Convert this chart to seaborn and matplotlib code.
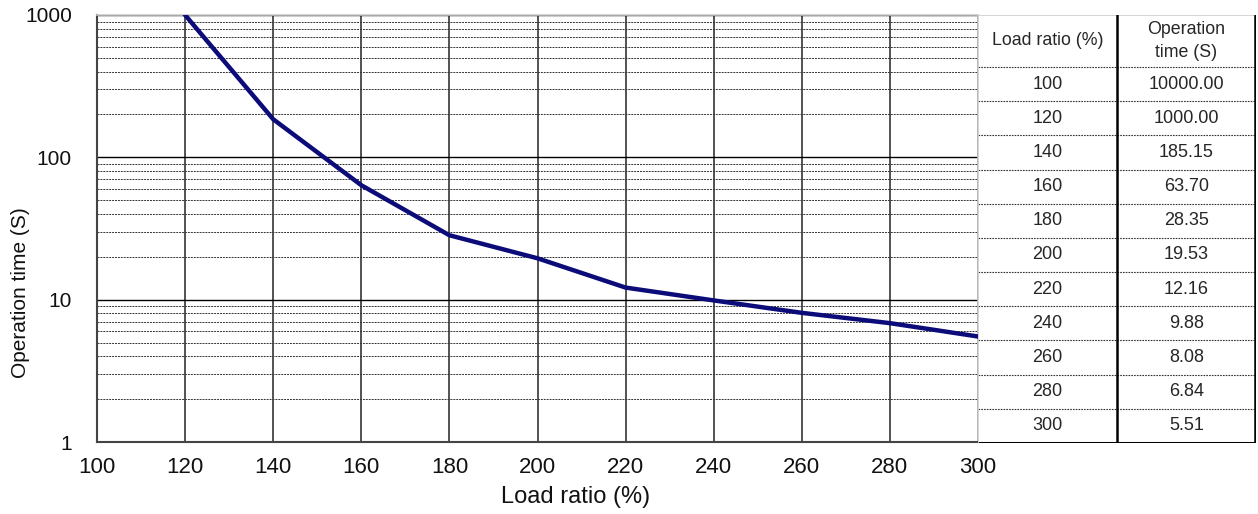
import numpy as np
import pandas as pd
import seaborn as sns
import matplotlib.pyplot as plt
from matplotlib.ticker import LogLocator, NullFormatter, FixedLocator

load_ratio = [100, 120, 140, 160, 180, 200, 220, 240, 260, 280, 300]
op_time = [10000.00, 1000.00, 185.15, 63.70, 28.35, 19.53, 12.16, 9.88, 8.08, 6.84, 5.51]
x_ticks = [100, 120, 140, 160, 180, 200, 220, 240, 260, 280, 300]
y_ticks = [1, 10, 100, 1000]

sns.set_style("white")
plt.rcParams['font.family'] = ['Liberation Sans', 'DejaVu Sans']

W, H = 1258, 514
fig = plt.figure(figsize=(W / 100, H / 100), dpi=100)
ax = fig.add_axes([97 / W, (H - 442) / H, (978 - 97) / W, (442 - 15) / H])

data = pd.DataFrame({'load': load_ratio, 'time': op_time})
sns.lineplot(data=data, x='load', y='time', ax=ax, color='#0b0b7a', linewidth=3.2,
             zorder=5, solid_capstyle='round')

ax.set_yscale('log')
ax.set_xlim(100, 300)
ax.set_ylim(1, 1000)
ax.xaxis.set_major_locator(FixedLocator(x_ticks))
ax.yaxis.set_major_locator(FixedLocator(y_ticks))
ax.set_yticklabels([str(v) for v in y_ticks])
ax.yaxis.set_minor_locator(LogLocator(base=10, subs=np.arange(2, 10)))
ax.yaxis.set_minor_formatter(NullFormatter())

ax.grid(axis='x', which='major', color='#444444', linewidth=1.3)
ax.grid(axis='y', which='major', color='black', linewidth=1.0)
ax.grid(axis='y', which='minor', color='#333333', linewidth=0.7, linestyle=(0, (2, 1)))
ax.set_axisbelow(True)

ax.tick_params(axis='both', which='both', length=0, colors='#111111')
ax.tick_params(axis='x', pad=11, labelsize=16)
ax.tick_params(axis='y', pad=18, labelsize=15)

for s in ['left', 'bottom']:
    ax.spines[s].set_color('#444444')
    ax.spines[s].set_linewidth(1.5)
for s in ['top', 'right']:
    ax.spines[s].set_color('#cccccc')
    ax.spines[s].set_linewidth(1.2)

ax.set_xlabel('Load ratio (%)', fontsize=17, color='#111111')
ax.xaxis.set_label_coords(0.543, -0.102)
ax.set_ylabel('Operation time (S)', fontsize=15, color='#111111')
ax.yaxis.set_label_coords(-0.076, 0.35)

# table on the right
tx = fig.add_axes([978 / W, (H - 443) / H, (1256 - 978) / W, (443 - 15) / H])
n = len(load_ratio)
head = 1.52
tx.set_xlim(0, 1)
tx.set_ylim(n + head, 0)
tx.set_xticks([])
tx.set_yticks([])
for s in tx.spines.values():
    s.set_visible(False)

tx.text(0.25, head / 2, 'Load ratio (%)', ha='center', va='center', fontsize=12.8)
tx.text(0.75, head / 2, 'Operation\ntime (S)', ha='center', va='center', fontsize=12.8,
        linespacing=1.4)
for i, (lr, t) in enumerate(zip(load_ratio, op_time)):
    yc = head + i + 0.5
    tx.text(0.25, yc, str(lr), ha='center', va='center', fontsize=13)
    tx.text(0.75, yc, '%.2f' % t, ha='center', va='center', fontsize=13)
    tx.axhline(head + i, color='#333333', linewidth=0.8, linestyle=(0, (1.5, 1)))

tx.axhline(0, color='#cccccc', linewidth=1.2)
tx.axhline(n + head, color='black', linewidth=2.2)
tx.axvline(0, color='#cccccc', linewidth=1.2)
tx.axvline(0.5, color='black', linewidth=1.8)
tx.axvline(0.997, color='black', linewidth=1.8)

fig.savefig('out.png', dpi=100)
